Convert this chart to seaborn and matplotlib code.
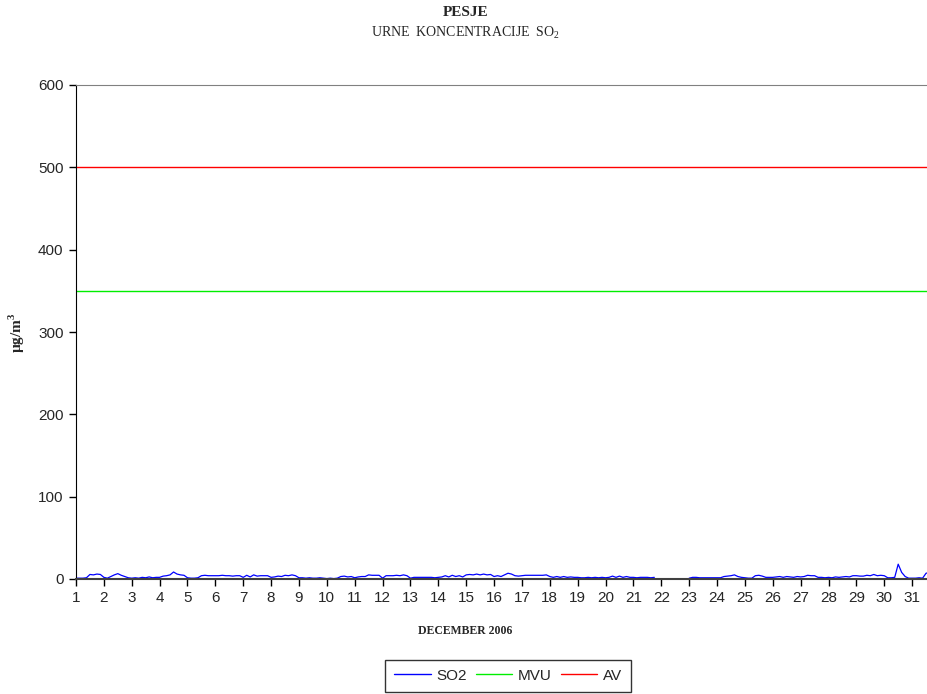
import numpy as np
import pandas as pd
import matplotlib
matplotlib.use("Agg")
import matplotlib.pyplot as plt
import seaborn as sns

# 3-hourly SO2 readings (µg/m3), one row per day
so2_by_day = [
    [1, 1, 1, 1.5, 5.5, 5, 6, 5.5],          # 1
    [2, 1, 3, 5, 6.5, 4.5, 3, 1.5],          # 2
    [1, 1.5, 1, 2, 1.5, 2.5, 1.5, 2],        # 3
    [2, 3.5, 4, 5, 8.5, 6, 5, 4.5],          # 4
    [1.5, 1, 1, 1.5, 4, 4.5, 4, 4],          # 5
    [4, 4, 4.5, 4, 4, 3.5, 4, 4],            # 6
    [2, 4.5, 2.5, 5, 3.5, 4, 4, 4],          # 7
    [2, 2.5, 3.5, 3, 4.5, 4, 5, 4],          # 8
    [1.5, 1.5, 1, 1.5, 1, 1, 1.5, 1],        # 9
    [0.5, 1, 0.5, 1, 3, 3.5, 2.5, 3],        # 10
    [1.5, 2.5, 3, 3, 5, 4.5, 4.5, 4.5],      # 11
    [1, 4, 4, 4, 4.5, 4, 5, 4],              # 12
    [1, 2, 2, 2, 2, 2, 2, 1.5],              # 13
    [2, 2.5, 4, 2.5, 4.5, 3, 4, 2.5],        # 14
    [5, 5.5, 5, 6, 5, 6, 5, 5.5],            # 15
    [3, 4, 3, 5, 7, 6, 4, 3.5],              # 16
    [4, 4.5, 4.5, 4.5, 4.5, 4.5, 4.5, 5],    # 17
    [3, 2, 3, 2, 3, 2, 2.5, 2],              # 18
    [2, 1.5, 1.5, 2, 1.5, 2, 1.5, 2],        # 19
    [1.5, 2, 3.5, 2, 3.5, 2, 3, 2],          # 20
    [2, 1.5, 2, 2, 2, 1.5, 2, np.nan],       # 21
    [np.nan, 1, np.nan, np.nan, np.nan, np.nan, np.nan, np.nan],  # 22
    [1, 2, 2, 1.5, 1.5, 1.5, 1.5, 1.5],      # 23
    [1.5, 1.5, 3, 3.5, 4, 5, 3, 2],          # 24
    [1.5, 1, 1, 4, 4.5, 3.5, 2, 2],          # 25
    [2, 2.5, 3, 2, 3, 2.5, 2, 3],            # 26
    [2.5, 3, 4.5, 4, 4, 2, 2, 1.5],          # 27
    [2, 1.5, 2.5, 2, 2.5, 3, 2.5, 4],        # 28
    [4, 3.5, 3.5, 4.5, 4, 5.5, 4, 4.5],      # 29
    [4, 1.5, 1.5, 2, 18, 8, 3, 1],           # 30
    [1, 1, 1.5, 1, 7, 8, 6, 5],              # 31
]
mvu = 350
av = 500
day_ticks = list(range(1, 32))

vals = np.array(so2_by_day, dtype=float).ravel()
days = 1 + np.arange(len(vals)) / 8
seg = np.cumsum(np.isnan(vals))
df = pd.DataFrame({"day": days, "so2": vals, "seg": seg}).dropna()

sns.set_style("ticks")
plt.rcParams["font.family"] = ["Liberation Sans", "DejaVu Sans"]
plt.rcParams["mathtext.fontset"] = "custom"
plt.rcParams["mathtext.rm"] = "Liberation Serif"
plt.rcParams["mathtext.bf"] = "Liberation Serif:bold"

fig = plt.figure(figsize=(9.28, 6.94), dpi=100)
ax = fig.add_axes([76 / 928, 1 - 579 / 694, 864 / 928, 494 / 694])

sns.lineplot(data=df, x="day", y="so2", units="seg", estimator=None,
             color="#0000ff", lw=0.9, ax=ax, legend=False)
ax.axhline(mvu, color="#00ee00", lw=1)
ax.axhline(av, color="#ff0000", lw=1)

ax.set_xlim(1, 32)
ax.set_ylim(0, 600)
ax.set_xticks(day_ticks)
ax.set_yticks(range(0, 601, 100))
ax.tick_params(labelsize=11, length=5, width=1, color="black", pad=4)
ax.spines["right"].set_visible(False)
ax.spines["top"].set_color("#808080")
ax.spines["left"].set_color("black")
ax.spines["bottom"].set_color("#404040")
ax.spines["bottom"].set_linewidth(1.5)
ax.set_xlabel("")
ax.set_ylabel("")

serif = "Liberation Serif"
fig.text(466 / 928, 1 - 13 / 694, "PESJE", family=serif, weight="bold",
         fontsize=11, ha="center", va="center")
fig.text(466 / 928, 1 - 33 / 694, "URNE  KONCENTRACIJE  SO$_2$", family=serif,
         fontsize=10, ha="center", va="center")
fig.text(465 / 928, 1 - 631 / 694, "DECEMBER 2006", family=serif, weight="bold",
         fontsize=8.5, ha="center", va="center")
fig.text(17 / 928, 1 - 333 / 694, "µg/m$^\\mathbf{3}$", family=serif, weight="bold",
         fontsize=11, ha="center", va="center", rotation=90)

handles = [plt.Line2D([], [], color="#0000ff", lw=1),
           plt.Line2D([], [], color="#00ee00", lw=1),
           plt.Line2D([], [], color="#ff0000", lw=1)]
leg = fig.legend(handles, ["SO2", "MVU", "AV"], loc="lower center",
                 bbox_to_anchor=(508 / 928, 2 / 694), ncol=3, frameon=True,
                 fancybox=False, edgecolor="black", fontsize=11,
                 handlelength=2.4, handletextpad=0.35, columnspacing=0.6,
                 borderpad=0.6, borderaxespad=0)
leg.get_frame().set_linewidth(1)

fig.savefig("out.png", dpi=100)
